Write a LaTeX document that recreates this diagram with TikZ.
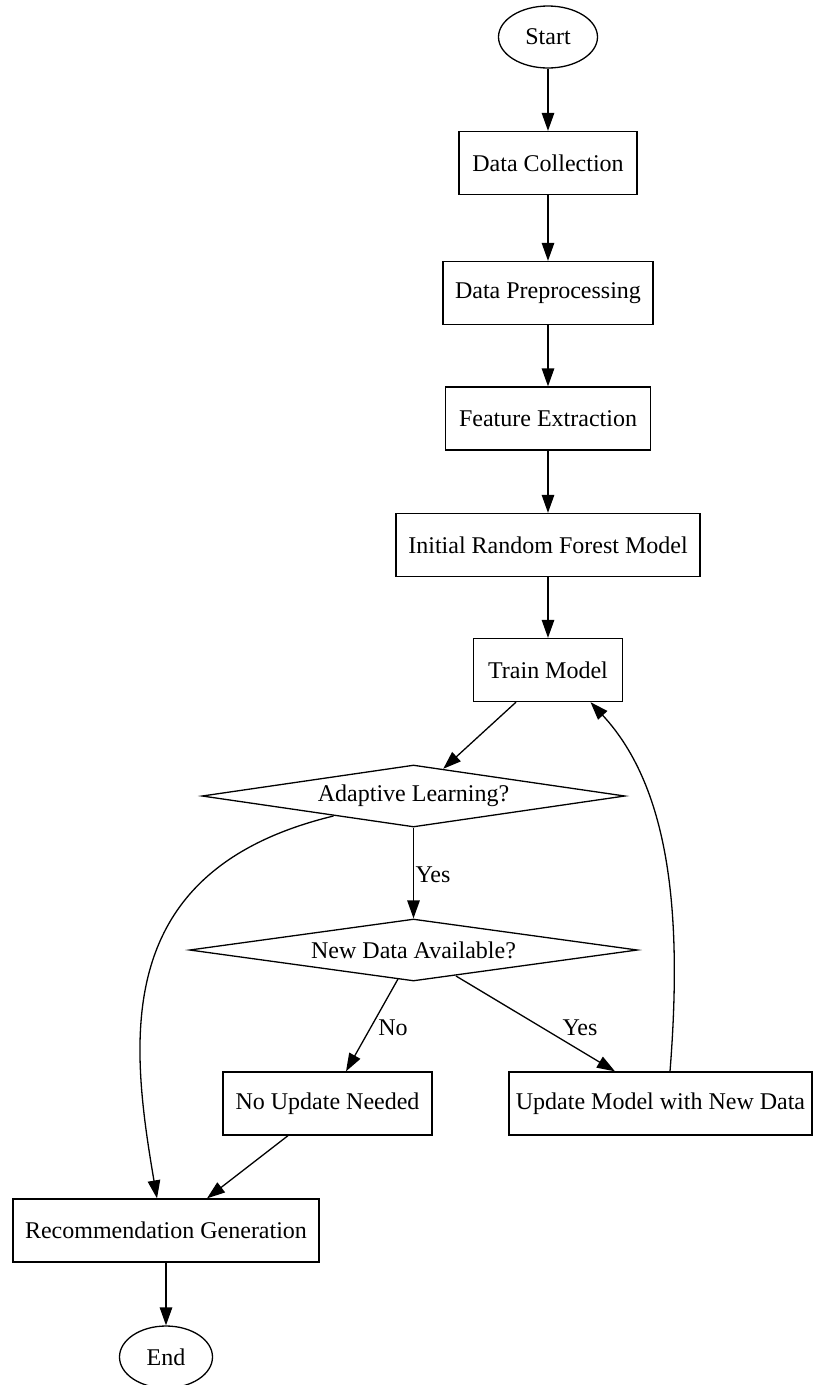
\documentclass[tikz,border=0pt]{standalone}
\usepackage{fontspec}
\setmainfont{Liberation Serif}
\usetikzlibrary{shapes.geometric,arrows.meta}
\begin{document}
\begin{tikzpicture}[x=1pt,y=-1pt,
  every node/.style={font=\fontsize{24}{28}\selectfont, inner sep=0pt},
  box/.style={draw, line width=1.3pt, rectangle, minimum height=63},
  oval/.style={draw, line width=1.3pt, ellipse, minimum width=99, minimum height=62},
  dec/.style={draw, line width=1.3pt, diamond, shape aspect=7, minimum height=62},
  arr/.style={line width=1.3pt, -{Triangle[length=18pt,width=12.5pt]}},
  lbl/.style={font=\fontsize{24}{28}\selectfont}
]
\useasboundingbox (0,0) rectangle (813,1385);
\node[oval] (start) at (548,37) {Start};
\node[box, minimum width=178] (dc) at (548,163) {Data Collection};
\node[box, minimum width=210] (dp) at (548,293) {Data Preprocessing};
\node[box, minimum width=205] (fe) at (548,418.5) {Feature Extraction};
\node[box, minimum width=304] (irf) at (548,545) {Initial Random Forest Model};
\node[box, minimum width=149] (tm) at (548,670) {Train Model};
\node[dec, minimum width=423] (al) at (413.5,796) {Adaptive Learning?};
\node[dec, minimum width=448] (nd) at (413.5,950) {New Data Available?};
\node[box, minimum width=209] (nu) at (327.5,1103.5) {No Update Needed};
\node[box, minimum width=303] (um) at (660.5,1103.5) {Update Model with New Data};
\node[box, minimum width=306] (rg) at (166,1230.5) {Recommendation Generation};
\node[oval, minimum width=93] (end) at (166,1357) {End};

\draw[arr] (start) -- (dc);
\draw[arr] (dc) -- (dp);
\draw[arr] (dp) -- (fe);
\draw[arr] (fe) -- (irf);
\draw[arr] (irf) -- (tm);
\draw[arr] ([xshift=-32pt]tm.south) -- (al);
\draw[arr] (al) -- (nd);
\draw[arr] ([xshift=-80pt,yshift=-20pt]al.center) .. controls (110,870) and (130,1040) .. ([xshift=-9pt]rg.north);
\draw[arr] ([xshift=-15.5pt,yshift=-29pt]nd.center) -- ([xshift=18.5pt]nu.north);
\draw[arr] ([xshift=42.5pt,yshift=-26pt]nd.center) -- ([xshift=-45.5pt]um.north);
\draw[arr] ([xshift=9.5pt]um.north) .. controls (682,920) and (672,790) .. ([xshift=42.5pt]tm.south);
\draw[arr] ([xshift=-39.5pt]nu.south) -- ([xshift=41pt]rg.north);
\draw[arr] (rg) -- (end);

\node[lbl] (l1) at (433,875) {Yes};
\node[lbl] (l2) at (393,1028) {No};
\node[lbl] (l3) at (580,1028) {Yes};
\end{tikzpicture}
\end{document}
